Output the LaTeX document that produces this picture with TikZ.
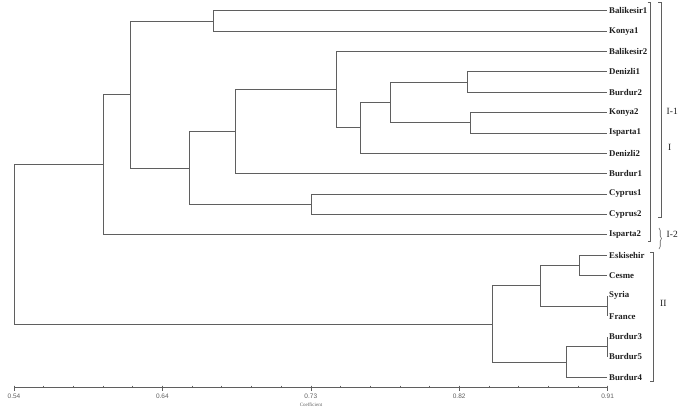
\documentclass[tikz,border=0pt]{standalone}
\usepackage{fontspec}
\setmainfont{Liberation Serif}
\newfontfamily\axfont{Liberation Sans}
\usetikzlibrary{decorations.pathreplacing}
\definecolor{linegray}{RGB}{95,95,95}
\definecolor{txt}{RGB}{30,30,30}
\begin{document}
\begin{tikzpicture}[x=1pt,y=-1pt,
  branch/.style={draw=linegray,line width=0.75pt},
  axisline/.style={draw=linegray,line width=0.6pt},
  leaflabel/.style={anchor=west,inner sep=0pt,font=\bfseries\fontsize{8.8}{10}\selectfont,text=txt},
  grouplabel/.style={anchor=west,inner sep=0pt,font=\fontsize{9.5}{11}\selectfont,text=txt},
  bracketline/.style={draw=linegray,line width=0.6pt},
  ticklabel/.style={inner sep=0pt,font=\axfont\fontsize{6.5}{7}\selectfont,text=linegray}]
\useasboundingbox (0,0) rectangle (685,410);

% leaves
\foreach \i/\name in {0/Balikesir1,1/Konya1,2/Balikesir2,3/Denizli1,4/Burdur2,5/Konya2,6/Isparta1,7/Denizli2,8/Burdur1,9/Cyprus1,10/Cyprus2,11/Isparta2,12/Eskisehir,13/Cesme,14/Syria,15/France,16/Burdur3,17/Burdur5,18/Burdur4}{
  \coordinate (L\i) at (607,{10.7+20.37*\i});
  \node[leaflabel] (t\i) at (609,{10.7+20.37*\i}) {\name};
}

% internal nodes
\coordinate (A) at (213,20.9);
\coordinate (Den) at (467.7,82.0);
\coordinate (KI) at (470.7,122.7);
\coordinate (N390) at (390.7,102.4);
\coordinate (N360) at (360,127.8);
\coordinate (N336) at (336,89.6);
\coordinate (N235) at (235,131.6);
\coordinate (Cyp) at (311.7,204.2);
\coordinate (N189) at (189,167.9);
\coordinate (N130) at (130,94.4);
\coordinate (NI) at (103.7,164.6);
\coordinate (EC) at (579,265.3);
\coordinate (SF) at (607,306.1);
\coordinate (N541) at (540.7,285.7);
\coordinate (B35) at (607,346.8);
\coordinate (N566) at (566.3,362.1);
\coordinate (NII) at (492.3,323.9);
\coordinate (Root) at (14,244.2);

\draw[branch] (A) |- (L0);  \draw[branch] (A) |- (L1);
\draw[branch] (Den) |- (L3); \draw[branch] (Den) |- (L4);
\draw[branch] (KI) |- (L5); \draw[branch] (KI) |- (L6);
\draw[branch] (N390) |- (Den); \draw[branch] (N390) |- (KI);
\draw[branch] (N360) |- (N390); \draw[branch] (N360) |- (L7);
\draw[branch] (N336) |- (L2); \draw[branch] (N336) |- (N360);
\draw[branch] (N235) |- (N336); \draw[branch] (N235) |- (L8);
\draw[branch] (Cyp) |- (L9); \draw[branch] (Cyp) |- (L10);
\draw[branch] (N189) |- (N235); \draw[branch] (N189) |- (Cyp);
\draw[branch] (N130) |- (A); \draw[branch] (N130) |- (N189);
\draw[branch] (NI) |- (N130); \draw[branch] (NI) |- (L11);
\draw[branch] (EC) |- (L12); \draw[branch] (EC) |- (L13);
\draw[branch] (SF) |- (L14); \draw[branch] (SF) |- (L15);
\draw[branch] (N541) |- (EC); \draw[branch] (N541) |- (SF);
\draw[branch] (B35) |- (L16); \draw[branch] (B35) |- (L17);
\draw[branch] (N566) |- (B35); \draw[branch] (N566) |- (L18);
\draw[branch] (NII) |- (N541); \draw[branch] (NII) |- (N566);
\draw[branch] (Root) |- (NI); \draw[branch] (Root) |- (NII);

% group brackets
\draw[bracketline] (647.7,2) -- (650.7,2) -- (650.7,241.7) -- (647.7,241.7);
\draw[bracketline] (658.3,2) -- (661,2) -- (661,217.3) -- (658.3,217.3);
\draw[bracketline] (650,252.5) -- (653.5,252.5) -- (653.5,381) -- (650,381);
\draw[bracketline,decorate,decoration={brace,amplitude=2.5pt}] (659,228) -- (659,249);
\node[grouplabel] (g11) at (666.5,111) {I-1};
\node[grouplabel] (g1) at (668,147) {I};
\node[grouplabel] (g12) at (666.5,234) {I-2};
\node[grouplabel] (g2) at (660,303.5) {II};

% axis
\coordinate (ax0) at (14,387);
\coordinate (ax1) at (607.6,387);
\draw[axisline] (ax0) -- (ax1);
\foreach \i in {0,...,20}{
  \draw[axisline] ({14+29.68*\i},385.5) -- ({14+29.68*\i},387.5);
}
\foreach \i in {0,5,10,15,20}{
  \draw[axisline] ({14+29.68*\i},385.5) -- ({14+29.68*\i},390.5);
}
\node[ticklabel] (x0) at (14,396.5) {0.54};
\node[ticklabel] (x1) at (162.4,396.5) {0.64};
\node[ticklabel] (x2) at (310.8,396.5) {0.73};
\node[ticklabel] (x3) at (459.2,396.5) {0.82};
\node[ticklabel] (x4) at (607.6,396.5) {0.91};
\node[inner sep=0pt,font=\fontsize{5}{6}\selectfont,text=linegray] (coef) at (311,404.5) {Coefficient};
\end{tikzpicture}
\end{document}
